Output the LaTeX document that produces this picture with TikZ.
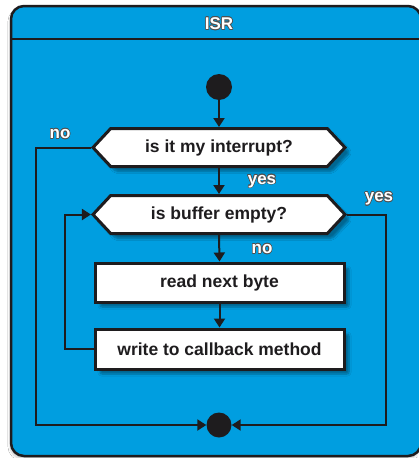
\documentclass[tikz,border=0pt]{standalone}
\usepackage{fontspec}
\setmainfont{Liberation Sans}
\usepackage{contour}
\contourlength{0.6pt}
\usetikzlibrary{arrows.meta,shapes.symbols,shadows.blur}

\definecolor{isrblue}{RGB}{0,158,224}
\definecolor{ink}{RGB}{30,28,30}
\definecolor{halo}{RGB}{80,80,80}

\tikzset{
  x=1pt, y=-1pt,
  boxshadow/.style={blur shadow={shadow xshift=5pt, shadow yshift=-5pt,
      shadow blur steps=6, shadow blur extra rounding=2pt,
      shadow opacity=35}},
  actbox/.style={rectangle, draw=ink, line width=3pt, fill=white,
      minimum width=249pt, minimum height=39pt, inner sep=0pt,
      font=\fontsize{17.5}{20}\selectfont\bfseries, text=ink, boxshadow},
  decision/.style={signal, signal to=west and east, signal pointer angle=94,
      draw=ink, line width=3pt, fill=white, inner sep=0pt,
      minimum width=252pt, minimum height=38pt,
      font=\fontsize{17.5}{20}\selectfont\bfseries, text=ink, boxshadow},
  dot/.style={circle, fill=ink, draw=none, inner sep=0pt, minimum size=#1},
  flow/.style={draw=ink, line width=2pt, -{Triangle[length=9pt,width=11pt]}},
  guard/.style={inner sep=0pt, anchor=base,
      font=\fontsize{17}{20}\selectfont\bfseries, text=white},
}

\begin{document}
\begin{tikzpicture}
  \useasboundingbox (0,0) rectangle (418,458);
  \fill[white] (0,0) rectangle (418,458);

  % state frame with header
  \draw[fill=isrblue, draw=ink, line width=2.5pt, rounded corners=13pt,
        blur shadow={shadow xshift=-1pt, shadow yshift=-3pt, shadow blur steps=6,
        shadow opacity=20}]
    (11,6) rectangle (421,456);
  \draw[ink, line width=2.5pt] (11,39) -- (421,39);
  \node[guard, anchor=center] (title) at (219,24) {\contour{halo}{ISR}};

  % start and end points
  \node[dot=26pt] (start) at (219,87) {};
  \node[dot=25pt] (stop) at (219,425) {};

  % activities and decisions
  \node[decision] (mine) at (219,147.5) {is it my interrupt?};
  \node[decision] (empty) at (219,214.5) {is buffer empty?};
  \node[actbox] (read) at (219.5,282.5) {read next byte};
  \node[actbox, minimum height=40pt] (write) at (219.5,349) {write to callback method};

  % helper corners for the routed connectors
  \coordinate (nl) at (36,147.5);
  \coordinate (nb) at (36,425);
  \coordinate (yr) at (386,214.5);
  \coordinate (yb) at (386,425);
  \coordinate (lb) at (65,349);
  \coordinate (lt) at (65,214.5);

  % connectors
  \draw[flow] (start) -- (mine.north);
  \draw[flow] (mine.south) -- (empty.north);
  \draw[flow] (empty.south) -- (read.north);
  \draw[flow] (read.south) -- (write.north);
  \draw[flow] (mine.west) -- (nl) -- (nb) -- (stop.west);
  \draw[flow] (empty.east) -- (yr) -- (yb) -- (stop.east);
  \draw[flow] (write.west) -- (lb) -- (lt) -- (empty.west);

  % guard labels
  \node[guard] (gno1) at (60,138.5) {\contour{halo}{no}};
  \node[guard] (gyes1) at (262,184) {\contour{halo}{yes}};
  \node[guard] (gyes2) at (379,201.5) {\contour{halo}{yes}};
  \node[guard] (gno2) at (262,253.5) {\contour{halo}{no}};
\end{tikzpicture}
\end{document}
